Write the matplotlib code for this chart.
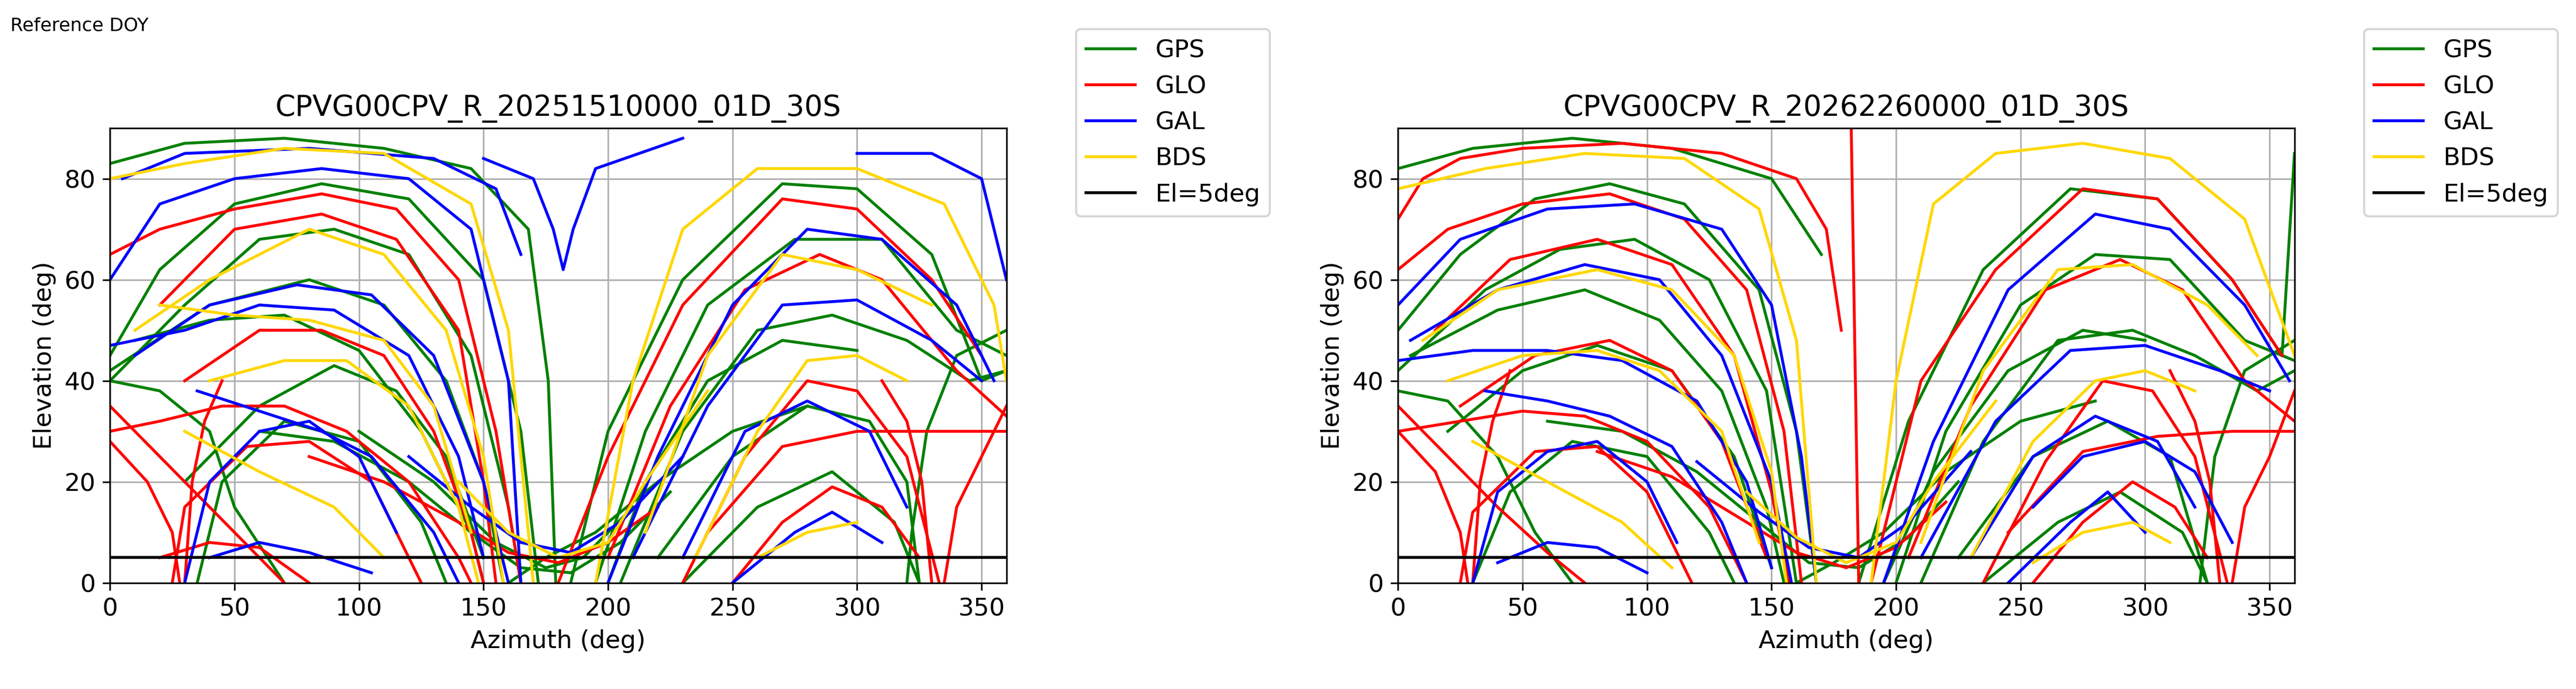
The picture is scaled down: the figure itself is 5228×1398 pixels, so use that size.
import matplotlib.pyplot as plt

# satellite tracks: each track is (azimuth list, elevation list)
titles = ['CPVG00CPV_R_20251510000_01D_30S', 'CPVG00CPV_R_20262260000_01D_30S']
systems = ['GPS', 'GLO', 'GAL', 'BDS']
colors = {'GPS': 'green', 'GLO': 'red', 'GAL': 'blue', 'BDS': 'gold'}

gps_1 = [
    ([0, 20, 50, 85, 120, 150, 165, 172], [45, 62, 75, 79, 76, 60, 30, 0]),
    ([0, 30, 60, 90, 120, 145, 160, 165], [40, 55, 68, 70, 65, 45, 15, 0]),
    ([0, 40, 80, 110, 135, 150, 158], [42, 55, 60, 55, 40, 20, 0]),
    ([10, 40, 70, 100, 125, 145, 150], [48, 52, 53, 46, 30, 10, 0]),
    ([30, 60, 90, 115, 135, 150], [20, 35, 43, 38, 25, 5]),
    ([35, 45, 70, 100, 125, 135], [0, 20, 32, 28, 12, 0]),
    ([185, 200, 230, 270, 300, 330, 350, 360], [0, 30, 60, 79, 78, 65, 40, 42]),
    ([195, 215, 240, 275, 310, 340, 360], [0, 30, 55, 68, 68, 50, 45]),
    ([205, 230, 260, 290, 320, 345, 360], [0, 30, 50, 53, 48, 40, 42]),
    ([220, 250, 280, 305, 320, 325], [5, 25, 35, 32, 20, 0]),
    ([230, 260, 290, 315, 325], [0, 15, 22, 12, 0]),
    ([0, 30, 70, 110, 145, 168, 176, 179], [83, 87, 88, 86, 82, 70, 40, 0]),
    ([360, 340, 328, 322, 320], [50, 45, 30, 10, 0]),
    ([0, 20, 40, 50, 70], [40, 38, 30, 15, 0]),
    ([200, 215, 240, 270, 300], [0, 20, 40, 48, 46]),
    ([60, 90, 120, 145, 165, 185, 205, 225], [30, 28, 20, 10, 3, 2, 8, 18]),
    ([100, 130, 155, 175, 190, 210], [30, 20, 8, 3, 5, 15]),
    ([160, 175, 195, 220, 250, 280], [0, 5, 10, 20, 30, 35]),
]
glo_1 = [
    ([0, 20, 45, 70, 95, 120, 140, 145], [30, 32, 35, 35, 30, 20, 5, 0]),
    ([0, 15, 25, 28], [28, 20, 10, 0]),
    ([0, 20, 50, 85, 115, 140, 155, 165], [65, 70, 74, 77, 74, 60, 30, 0]),
    ([20, 50, 85, 115, 140, 150, 155], [55, 70, 73, 68, 50, 20, 0]),
    ([30, 60, 85, 110, 130, 145, 150], [40, 50, 50, 45, 30, 10, 0]),
    ([25, 30, 55, 80, 105, 120, 125], [0, 15, 27, 28, 20, 5, 0]),
    ([0, 20, 40, 60, 70], [35, 25, 15, 5, 0]),
    ([180, 200, 230, 270, 300, 330, 350], [0, 25, 55, 76, 74, 60, 45]),
    ([200, 225, 255, 285, 310, 340, 360], [5, 35, 58, 65, 60, 42, 33]),
    ([230, 255, 280, 300, 320, 333], [0, 25, 40, 38, 25, 0]),
    ([240, 270, 300, 330, 360], [10, 27, 30, 30, 30]),
    ([250, 270, 290, 310, 325], [0, 12, 19, 15, 5]),
    ([335, 340, 350, 360], [0, 15, 25, 35]),
    ([20, 40, 60, 80], [5, 8, 7, 0]),
    ([30, 33, 38, 45], [0, 20, 32, 40]),
    ([330, 326, 320, 310], [0, 20, 32, 40]),
    ([80, 110, 140, 160, 180, 200, 220], [25, 20, 12, 6, 4, 8, 15]),
]
gal_1 = [
    ([5, 30, 80, 130, 155, 165], [80, 85, 86, 84, 78, 65]),
    ([150, 170, 178, 182, 186, 195, 230], [84, 80, 70, 62, 70, 82, 88]),
    ([0, 20, 50, 85, 120, 145, 160, 165], [60, 75, 80, 82, 80, 70, 40, 0]),
    ([10, 40, 75, 105, 130, 150, 160], [45, 55, 59, 57, 45, 20, 0]),
    ([0, 30, 60, 90, 120, 140, 150], [47, 50, 55, 54, 45, 25, 5]),
    ([35, 60, 85, 105, 130, 140], [38, 34, 30, 25, 10, 0]),
    ([30, 40, 60, 80, 100, 115], [0, 20, 30, 32, 25, 10]),
    ([200, 220, 250, 280, 310, 340, 355], [0, 25, 55, 70, 68, 55, 40]),
    ([210, 240, 270, 300, 330, 350], [5, 35, 55, 56, 48, 40]),
    ([230, 255, 280, 305, 320], [5, 30, 36, 30, 15]),
    ([250, 275, 290, 310], [0, 10, 14, 8]),
    ([300, 330, 350, 360], [85, 85, 80, 60]),
    ([40, 60, 80, 105], [5, 8, 6, 2]),
    ([120, 145, 165, 185, 205, 230], [25, 15, 8, 6, 12, 25]),
]
bds_1 = [
    ([0, 30, 70, 110, 145, 160, 170], [80, 83, 86, 85, 75, 50, 0]),
    ([10, 40, 80, 110, 135, 150, 158], [50, 60, 70, 65, 50, 25, 0]),
    ([20, 50, 80, 110, 130, 145], [55, 53, 52, 48, 35, 10]),
    ([40, 70, 95, 120, 140, 148], [40, 44, 44, 35, 15, 0]),
    ([195, 210, 230, 260, 300, 335, 355, 360], [0, 40, 70, 82, 82, 75, 55, 40]),
    ([215, 240, 270, 300, 330], [10, 45, 65, 62, 55]),
    ([235, 260, 280, 300, 320], [5, 30, 44, 45, 40]),
    ([30, 60, 90, 110], [30, 22, 15, 5]),
    ([260, 280, 300], [5, 10, 12]),
    ([140, 160, 180, 200, 215, 240], [20, 10, 5, 8, 20, 38]),
]

gps_2 = [
    ([0, 25, 55, 85, 115, 145, 160, 168], [50, 65, 76, 79, 75, 58, 30, 0]),
    ([0, 35, 65, 95, 125, 148, 160], [42, 58, 66, 68, 60, 38, 0]),
    ([5, 40, 75, 105, 130, 148, 155], [45, 54, 58, 52, 38, 15, 0]),
    ([20, 50, 80, 110, 135, 150], [30, 42, 47, 42, 25, 3]),
    ([30, 45, 70, 100, 125, 135], [0, 18, 28, 25, 10, 0]),
    ([185, 205, 235, 270, 305, 335, 355, 360], [0, 32, 62, 78, 76, 60, 45, 85]),
    ([200, 220, 250, 280, 310, 340, 360], [0, 30, 55, 65, 64, 48, 44]),
    ([210, 235, 265, 295, 320, 345, 360], [0, 28, 48, 50, 45, 38, 42]),
    ([225, 255, 285, 310, 325], [5, 25, 32, 25, 0]),
    ([235, 265, 290, 315, 325], [0, 12, 18, 10, 0]),
    ([0, 30, 70, 110, 150, 170], [82, 86, 88, 86, 80, 65]),
    ([360, 340, 328, 322], [48, 42, 25, 0]),
    ([0, 20, 40, 55, 70], [38, 36, 25, 10, 0]),
    ([195, 215, 245, 275, 300], [0, 22, 42, 50, 48]),
    ([60, 90, 120, 145, 165, 185, 205, 225], [32, 30, 22, 12, 4, 3, 9, 20]),
    ([160, 175, 195, 220, 250, 280], [0, 4, 10, 22, 32, 36]),
]
glo_2 = [
    ([0, 10, 25, 50, 90, 130, 160, 172, 178], [72, 80, 84, 86, 87, 85, 80, 70, 50]),
    ([0, 20, 50, 85, 115, 140, 155, 162], [62, 70, 75, 77, 72, 58, 30, 0]),
    ([15, 45, 80, 110, 135, 150, 157], [50, 64, 68, 63, 45, 18, 0]),
    ([25, 55, 85, 110, 130, 148], [35, 45, 48, 42, 28, 5]),
    ([0, 25, 50, 75, 100, 125, 140], [30, 32, 34, 33, 28, 15, 0]),
    ([0, 15, 25, 28], [30, 22, 10, 0]),
    ([25, 30, 55, 80, 100, 118], [0, 14, 26, 27, 18, 0]),
    ([182, 183, 184, 185], [90, 60, 30, 0]),
    ([190, 210, 240, 275, 305, 335, 355], [0, 40, 62, 78, 76, 60, 45]),
    ([205, 230, 260, 290, 315, 340, 360], [5, 35, 58, 64, 58, 40, 32]),
    ([235, 260, 283, 303, 320, 333], [0, 24, 40, 38, 25, 0]),
    ([245, 275, 305, 335, 360], [10, 26, 29, 30, 30]),
    ([255, 275, 295, 312, 325], [0, 12, 20, 15, 5]),
    ([335, 340, 350, 360], [0, 15, 25, 38]),
    ([30, 33, 38, 45], [0, 20, 32, 42]),
    ([330, 326, 320, 310], [0, 20, 32, 42]),
    ([0, 20, 40, 60, 75], [35, 25, 15, 6, 0]),
    ([80, 110, 140, 160, 180, 200, 220], [26, 21, 12, 6, 3, 7, 16]),
]
gal_2 = [
    ([0, 25, 60, 95, 130, 150, 162, 168], [55, 68, 74, 75, 70, 55, 25, 0]),
    ([5, 40, 75, 105, 130, 150, 158], [48, 58, 63, 60, 45, 20, 0]),
    ([0, 30, 60, 90, 120, 140, 150], [44, 46, 46, 44, 36, 20, 3]),
    ([35, 60, 85, 110, 130, 140], [38, 36, 33, 27, 12, 0]),
    ([30, 40, 60, 80, 100, 112], [0, 18, 26, 28, 20, 8]),
    ([195, 215, 245, 280, 310, 340, 358], [0, 28, 58, 73, 70, 55, 40]),
    ([210, 240, 270, 300, 330, 350], [5, 32, 46, 47, 42, 38]),
    ([230, 255, 280, 305, 320], [5, 25, 33, 28, 15]),
    ([245, 270, 285, 300], [0, 12, 18, 10]),
    ([40, 60, 80, 100], [4, 8, 7, 2]),
    ([255, 275, 300, 320, 335], [15, 25, 28, 22, 8]),
    ([120, 145, 165, 185, 205, 230], [24, 14, 7, 5, 12, 26]),
]
bds_2 = [
    ([0, 35, 75, 115, 145, 160, 168], [78, 82, 85, 84, 74, 48, 0]),
    ([10, 40, 80, 110, 135, 150, 156], [48, 58, 62, 58, 45, 22, 0]),
    ([20, 50, 80, 105, 130, 145], [40, 45, 46, 42, 30, 8]),
    ([190, 200, 215, 240, 275, 310, 340, 360], [0, 40, 75, 85, 87, 84, 72, 45]),
    ([210, 235, 265, 295, 325, 345], [8, 42, 62, 63, 55, 45]),
    ([230, 255, 280, 300, 320], [5, 28, 40, 42, 38]),
    ([30, 60, 90, 110], [28, 20, 12, 3]),
    ([255, 275, 295, 310], [4, 10, 12, 8]),
    ([140, 160, 180, 200, 215, 240], [18, 9, 4, 8, 20, 36]),
]

panels = [
    {'GPS': gps_1, 'GLO': glo_1, 'GAL': gal_1, 'BDS': bds_1},
    {'GPS': gps_2, 'GLO': glo_2, 'GAL': gal_2, 'BDS': bds_2},
]

fig = plt.figure(figsize=(17.427, 4.66), dpi=300)
fig.text(0.004, 0.975, 'Reference DOY', fontsize=9, va='top')
lefts = [0.0427, 0.5427]

for i in range(2):
    ax = fig.add_axes([lefts[i], 0.154, 0.348, 0.66])
    for sys in systems:
        first = True
        for az, el in panels[i][sys]:
            ax.plot(az, el, color=colors[sys], lw=1.4,
                    label=sys if first else None)
            first = False
    ax.axhline(5, color='black', lw=1.4, label='El=5deg')
    ax.set_xlim(0, 360)
    ax.set_ylim(0, 90)
    ax.set_xticks(range(0, 351, 50))
    ax.set_yticks(range(0, 81, 20))
    ax.grid(True, color='#b0b0b0', lw=0.8)
    ax.set_title(titles[i], fontsize=14)
    ax.set_xlabel('Azimuth (deg)', fontsize=12)
    ax.set_ylabel('Elevation (deg)', fontsize=12)
    ax.tick_params(labelsize=12)
    ax.legend(loc='upper left', bbox_to_anchor=(1.064, 1.245), fontsize=12)

fig.savefig('out.png', dpi=300)
